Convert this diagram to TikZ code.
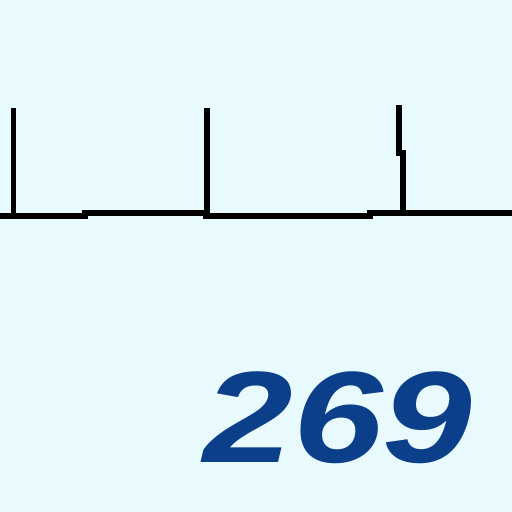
\documentclass[tikz,border=0pt]{standalone}
\usepackage{fontspec}
\setmainfont{Liberation Sans}
\usepackage{xcolor}
\definecolor{PaleSky}{HTML}{E8FAFE}
\definecolor{Navy}{HTML}{0C3F8A}

\begin{document}
\begin{tikzpicture}[x=1pt,y=-1pt,line width=5.5pt]
    % background, 512 x 512
    \fill[PaleSky] (0,0) rectangle (512,512);
    \useasboundingbox (0,0) rectangle (512,512);
    % baseline with small steps
    \draw[black] (0,216) -- (85,216) -- (85,213) -- (206,213) -- (206,216)
      -- (370,216) -- (370,213) -- (512,213);
    % three spikes
    \foreach \x/\top in {13.5/108,207/108}{
      \draw[black] (\x,215) -- (\x,\top);
    }
    \draw[black] (403,214) -- (403,153) -- (399,153) -- (399,105);
    % count
    \node[anchor=base east,inner sep=0pt,text=Navy,xscale=1.24,
      font=\fontsize{130}{130}\selectfont\bfseries\itshape] (count) at (476,462) {269};
  \end{tikzpicture}
\end{document}
